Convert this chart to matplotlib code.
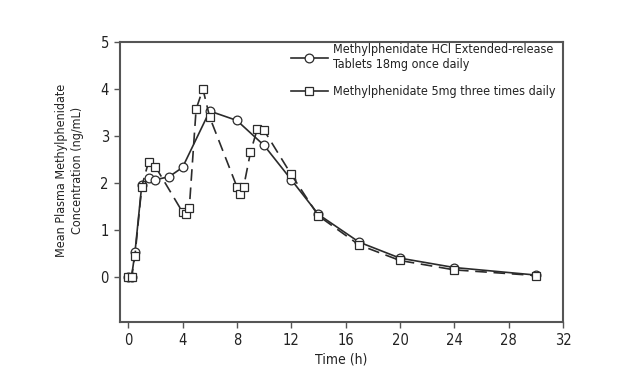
import matplotlib
matplotlib.use('Agg')
import matplotlib.pyplot as plt

plt.rcParams['font.family'] = ['Liberation Sans Narrow', 'DejaVu Sans']
plt.rcParams['font.stretch'] = 'condensed'

# Methylphenidate HCl ER tablets 18 mg once daily (circles, solid)
er_time = [0, 0.25, 0.5, 1, 1.5, 2, 3, 4, 6, 8, 10, 12, 14, 17, 20, 24, 30]
er_conc = [0, 0, 0.52, 1.95, 2.1, 2.07, 2.13, 2.33, 3.53, 3.33, 2.8, 2.07, 1.33, 0.74, 0.4, 0.2, 0.04]

# Methylphenidate 5 mg three times daily (squares, dashed)
ir_time = [0, 0.25, 0.5, 1, 1.5, 2, 4, 4.25, 4.5, 5, 5.5, 6, 8, 8.25, 8.5, 9, 9.5, 10, 12, 14, 17, 20, 24, 30]
ir_conc = [0, 0, 0.45, 1.92, 2.45, 2.35, 1.38, 1.33, 1.47, 3.57, 4.0, 3.4, 1.92, 1.77, 1.92, 2.65, 3.15, 3.12,
           2.18, 1.3, 0.68, 0.35, 0.15, 0.03]

x_ticks = [0, 4, 8, 12, 16, 20, 24, 28, 32]
y_ticks = [0, 1, 2, 3, 4, 5]

label_er = 'Methylphenidate HCl Extended-release\nTablets 18mg once daily'
label_ir = 'Methylphenidate 5mg three times daily'

fig = plt.figure(figsize=(6.26, 3.88), dpi=100)
ax = fig.add_axes([0.1917, 0.170, 0.7077, 0.7218])

line_col = '#2b2b2b'
ax.plot(er_time, er_conc, '-', color=line_col, lw=1.2, marker='o', ms=6.3,
        mfc='white', mec=line_col, mew=0.9, label=label_er)
ax.plot(ir_time, ir_conc, '--', color=line_col, lw=1.2, dashes=(7, 4), marker='s', ms=6.3,
        mfc='white', mec=line_col, mew=0.9, label=label_ir)

ax.set_xlim(-0.6, 32)
ax.set_ylim(-0.96, 5)
ax.set_xticks(x_ticks)
ax.set_yticks(y_ticks)

for s in ax.spines.values():
    s.set_color('#555555')
    s.set_linewidth(1.5)
ax.tick_params(direction='out', length=4, width=1, color='#555555', labelsize=10.5,
               labelcolor='#222222', pad=4)

ax.set_xlabel('Time (h)', fontsize=10, color='#222222', labelpad=3)
ax.set_ylabel('Mean Plasma Methylphenidate\nConcentration (ng/mL)', fontsize=9,
              color='#222222', linespacing=1.3)
ax.yaxis.set_label_coords(-0.081, 0.54)

leg = ax.legend(loc='upper left', bbox_to_anchor=(0.36, 1.035), frameon=False,
                fontsize=9, handlelength=3.0, handletextpad=0.4, labelspacing=1.1,
                labelcolor='#222222')
# legend lines solid, as in the reference
for h in leg.legend_handles:
    h.set_linestyle('-')

fig.savefig('out.png', dpi=100)
